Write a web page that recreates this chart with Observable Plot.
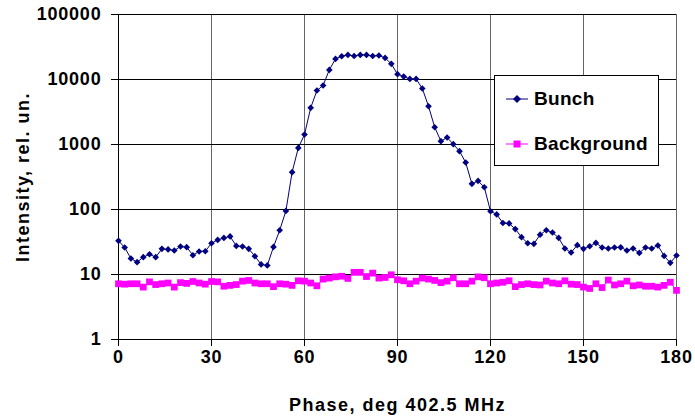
<!DOCTYPE html>
<html>
<head>
<meta charset="utf-8">
<script src="https://cdn.jsdelivr.net/npm/d3@7"></script>
<script src="https://cdn.jsdelivr.net/npm/@observablehq/plot@0.6"></script>
<style>
  html, body { margin: 0; padding: 0; background: #fff; }
  #chart { position: relative; width: 695px; height: 417px; font-family: "Liberation Sans", Arial, sans-serif; }
  #chart g[aria-label="x-axis tick label"] text,
  #chart g[aria-label="y-axis tick label"] text { letter-spacing: 0.8px; }
  #chart g[aria-label="x-axis label"] text,
  #chart g[aria-label="y-axis label"] text { letter-spacing: 1.5px; }
  #legend {
    position: absolute; left: 494px; top: 75px; width: 163px; height: 89px;
    border: 1px solid #000; background: #fff; font-weight: bold; font-size: 19px;
  }
  #legend .row { position: absolute; left: 11px; display: flex; align-items: center; }
  #legend .row span { margin-left: 6px; letter-spacing: 0.3px; }
</style>
</head>
<body>
<div id="chart"></div>
<script>
// Phase steps (degrees at 402.5 MHz)
const phase = [0,2,4,6,8,10,12,14,16,18,20,22,24,26,28,30,32,34,36,38,40,42,44,46,48,50,
  52,54,56,58,60,62,64,66,68,70,72,74,76,78,80,82,84,86,88,90,92,94,96,98,100,102,104,106,
  108,110,112,114,116,118,120,122,124,126,128,130,132,134,136,138,140,142,144,146,148,150,
  152,154,156,158,160,162,164,166,168,170,172,174,176,178,180];

// Bunch intensity, rel. units
const bunch = [33,26,17.6,15.5,18.5,20.5,18.5,24.8,24.3,23.4,27,26.3,19.8,22.6,22.8,30.3,
  34,36.5,38.5,27.5,27,24.8,19.1,14.3,13.8,26.6,48,95,375,887,1426,3660,6770,8090,14060,
  20760,22800,23900,23000,23900,23900,23000,23400,21500,17400,12080,11100,10200,10200,7270,
  3880,1845,1124,1282,1011,789,528,248,275,220,94,84,62,61,50,37.5,30.3,29.6,41,48,44.3,
  36.5,25.1,21.8,28.3,24.8,27.2,30.6,26,25.1,26,26.2,23.4,25.1,21.5,26,25.1,27.9,19.3,
  15.1,19.6];

// Background intensity, rel. units
const background = [7.2,7.1,7.2,7.2,6.4,7.7,7.0,7.2,7.4,6.4,7.5,7.3,7.8,7.4,7.1,7.8,7.7,
  6.6,6.8,7.0,7.9,8.1,7.4,7.2,7.2,6.5,7.2,7.1,6.8,8.0,7.9,7.4,6.7,8.5,8.8,9.2,9.4,8.7,10.8,
  10.8,9.3,10.5,8.8,9.0,9.9,8.3,8.0,7.2,7.9,8.8,8.5,8.1,7.5,7.9,8.9,7.2,7.2,7.9,9.2,8.9,
  7.2,7.4,7.6,8.0,6.5,7.0,7.2,7.0,6.9,7.9,7.4,7.2,8.0,7.1,7.0,6.4,6.1,7.2,6.3,8.2,6.9,7.2,
  7.9,6.7,6.9,6.6,6.6,6.4,6.8,7.6,5.7];

const xTicks = [0, 30, 60, 90, 120, 150, 180];
const yTicks = [1, 10, 100, 1000, 10000, 100000];

const bunchColor = "#000080";
const bgColor = "#FF00FF";

const bunchData = phase.map((p, i) => ({phase: p, value: bunch[i]}));
const bgData = phase.map((p, i) => ({phase: p, value: background[i]}));

const font = {fontWeight: "bold", fontSize: 18};

const plot = Plot.plot({
  width: 695,
  height: 417,
  marginLeft: 118,
  marginRight: 19,
  marginTop: 14,
  marginBottom: 78,
  style: {fontFamily: "'Liberation Sans', Arial, sans-serif", background: "#fff", color: "#000"},
  x: {domain: [0, 180]},
  y: {type: "log", domain: [1, 100000]},
  marks: [
    Plot.frame({stroke: "#808080"}),
    Plot.gridX(xTicks.slice(1), {stroke: "#666", strokeOpacity: 1}),
    Plot.gridY(yTicks, {stroke: "#000", strokeOpacity: 1}),
    Plot.ruleX([0], {stroke: "#000"}),
    Plot.ruleY([1], {stroke: "#000"}),
    Plot.axisX(xTicks, {
      tickSize: 7, tickPadding: 4, tickFormat: d => String(d), ...font,
      label: "Phase, deg 402.5 MHz", labelAnchor: "center", labelArrow: "none", labelOffset: 71
    }),
    Plot.axisY(yTicks, {
      tickSize: 7, tickPadding: 10, tickFormat: d => String(d), ...font,
      label: "Intensity, rel. un.", labelAnchor: "center", labelArrow: "none", labelOffset: 102
    }),
    Plot.line(bgData, {x: "phase", y: "value", stroke: bgColor, strokeWidth: 1}),
    Plot.dot(bgData, {x: "phase", y: "value", symbol: "square", fill: bgColor, r: 3.8}),
    Plot.line(bunchData, {x: "phase", y: "value", stroke: bunchColor, strokeWidth: 1}),
    Plot.dot(bunchData, {x: "phase", y: "value", symbol: "diamond2", fill: bunchColor, r: 3})
  ]
});

const chart = document.getElementById("chart");
chart.appendChild(plot);

// Legend box over the upper right of the plot area
const legend = document.createElement("div");
legend.id = "legend";
const sample = (color, shape) => {
  const s = shape === "diamond"
    ? `<path d="M11,1 L15,5 L11,9 L7,5 Z" fill="${color}"/>`
    : `<rect x="7.5" y="1.5" width="7" height="7" fill="${color}"/>`;
  return `<svg width="22" height="10" style="overflow:visible"><line x1="0" y1="5" x2="22" y2="5" stroke="${color}" stroke-width="1"/>${s}</svg>`;
};
legend.innerHTML =
  `<div class="row" style="top:12px">${sample(bunchColor, "diamond")}<span>Bunch</span></div>` +
  `<div class="row" style="top:57px">${sample(bgColor, "square")}<span>Background</span></div>`;
chart.appendChild(legend);
</script>
</body>
</html>
